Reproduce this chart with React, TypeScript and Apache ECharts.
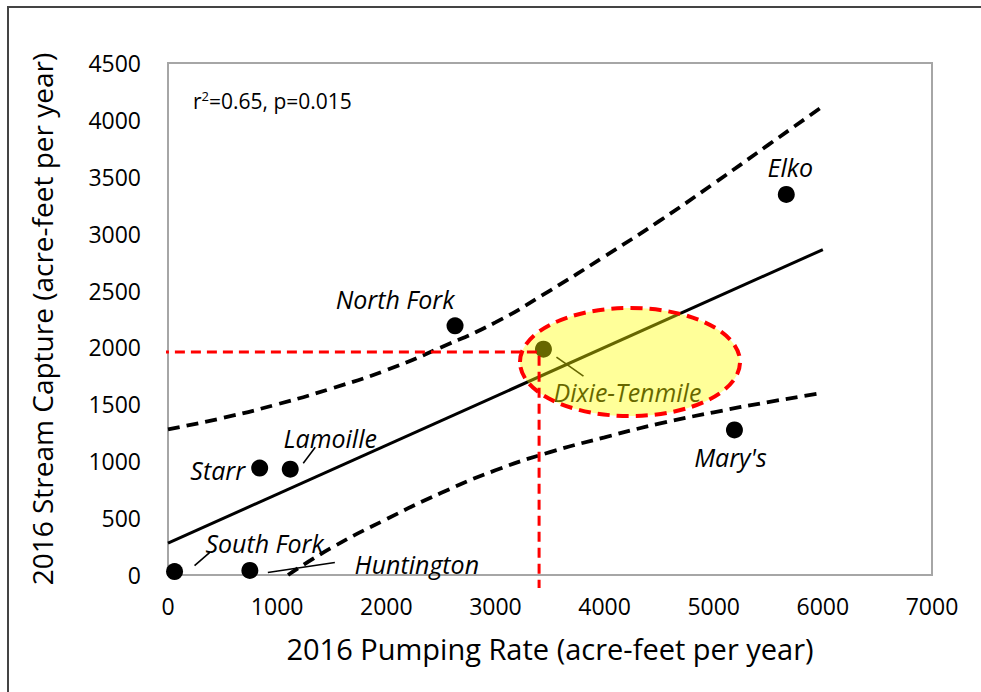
import React, { useEffect, useRef } from "react";
import * as echarts from "echarts";

// ---- data ----
const siteNames = ["South Fork", "Huntington", "Starr", "Lamoille", "North Fork", "Dixie-Tenmile", "Mary's", "Elko"];
const pumpingRate = [60, 750, 840, 1120, 2630, 3440, 5190, 5665];
const streamCapture = [30, 40, 940, 930, 2190, 1985, 1275, 3345];

const fitX = [0, 6000];
const fitY = [280, 2860];

const upperX = [0, 500, 1000, 1500, 2000, 2500, 3000, 3500, 4000, 4500, 5000, 5500, 6000];
const upperY = [1280, 1380, 1500, 1640, 1800, 2000, 2220, 2500, 2800, 3110, 3440, 3780, 4120];
const lowerX = [1100, 1500, 2000, 2500, 3000, 3500, 4000, 4500, 5000, 5500, 6000];
const lowerY = [0, 240, 490, 720, 920, 1080, 1210, 1330, 1430, 1520, 1600];

const readLineX = [-230, 3400, 3400];
const readLineY = [1960, 1960, -115];

const xAxisRange = [0, 7000];
const xAxisStep = 1000;
const yAxisRange = [0, 4500];
const yAxisStep = 500;

const statsText = ["r", "2", "=0.65, p=0.015"];
const xTitle = "2016 Pumping Rate (acre-feet per year)";
const yTitle = "2016 Stream Capture (acre-feet per year)";

// highlight ellipse around Dixie-Tenmile (data units)
const highlightCenter = [4233, 1872];
const highlightRadius = [1008, 475];

// ---- layout (pixel offsets from each point) ----
const labelOffsets: Record<string, number[]> = {
  "South Fork": [90, -29],
  Huntington: [167, -6],
  Starr: [-42, 2],
  Lamoille: [40, -31],
  "North Fork": [-60, -27],
  "Dixie-Tenmile": [84, 43],
  "Mary's": [-4, 27],
  Elko: [4, -27],
};
const leaderLines: Record<string, number[]> = {
  "South Fork": [20, -6, 35, -19],
  Huntington: [18, 2, 85, -8],
  Lamoille: [13, -6, 25, -22],
  "Dixie-Tenmile": [13, 8, 40, 27],
};

const FONT = "Open Sans";

export default function App() {
  const ref = useRef<HTMLDivElement>(null);
  useEffect(() => {
    if (!ref.current) return;
    const chart = echarts.init(ref.current, undefined, { renderer: "svg" });
    const pairs = (xs: number[], ys: number[]) => xs.map((x, i) => [x, ys[i]]);
    const scatterData = siteNames.map((n, i) => ({
      name: n,
      value: [pumpingRate[i], streamCapture[i]],
      label: { offset: labelOffsets[n] },
    }));
    const plain = (v: number) => String(v);
    chart.setOption({
      animation: false,
      backgroundColor: "#ffffff",
      grid: {
        left: 168,
        top: 63,
        right: 49,
        bottom: 117,
        show: true,
        borderColor: "#a6a6a6",
        borderWidth: 2,
        backgroundColor: "transparent",
      },
      xAxis: {
        type: "value",
        min: xAxisRange[0],
        max: xAxisRange[1],
        interval: xAxisStep,
        splitLine: { show: false },
        axisLine: { show: false },
        axisTick: { show: false },
        axisLabel: { color: "#000", fontFamily: FONT, fontSize: 23, margin: 19, formatter: plain },
        name: xTitle,
        nameLocation: "middle",
        nameGap: 59,
        nameTextStyle: { color: "#000", fontFamily: FONT, fontSize: 29 },
      },
      yAxis: {
        type: "value",
        min: yAxisRange[0],
        max: yAxisRange[1],
        interval: yAxisStep,
        splitLine: { show: false },
        axisLine: { show: false },
        axisTick: { show: false },
        axisLabel: { color: "#000", fontFamily: FONT, fontSize: 23, margin: 27, formatter: plain },
        name: yTitle,
        nameLocation: "middle",
        nameGap: 112,
        nameTextStyle: { color: "#000", fontFamily: FONT, fontSize: 28 },
      },
      series: [
        {
          type: "line",
          data: pairs(fitX, fitY),
          symbol: "none",
          lineStyle: { color: "#000", width: 3 },
          z: 3,
        },
        {
          type: "line",
          data: pairs(upperX, upperY),
          symbol: "none",
          smooth: true,
          lineStyle: { color: "#000", width: 3.8, type: [12, 7] },
          z: 3,
        },
        {
          type: "line",
          data: pairs(lowerX, lowerY),
          symbol: "none",
          smooth: true,
          lineStyle: { color: "#000", width: 3.8, type: [12, 7] },
          z: 3,
        },
        {
          type: "scatter",
          data: scatterData,
          symbol: "circle",
          symbolSize: 17,
          itemStyle: { color: "#000", opacity: 1 },
          label: {
            show: true,
            position: "inside",
            formatter: "{b}",
            color: "#000",
            fontFamily: FONT,
            fontStyle: "italic",
            fontSize: 25,
            align: "center",
            verticalAlign: "middle",
          },
          z: 4,
        },
        {
          type: "line",
          data: pairs(readLineX, readLineY),
          symbol: "none",
          clip: false,
          lineStyle: { color: "#ff0000", width: 3, type: [10, 6] },
          z: 120,
        },
      ],
    });

    const toPx = (p: number[]) => chart.convertToPixel({ gridIndex: 0 }, p) as number[];
    const graphics: any[] = [];
    siteNames.forEach((n, i) => {
      const l = leaderLines[n];
      if (!l) return;
      const [px, py] = toPx([pumpingRate[i], streamCapture[i]]);
      graphics.push({
        type: "line",
        shape: { x1: px + l[0], y1: py + l[1], x2: px + l[2], y2: py + l[3] },
        style: { stroke: "#000", lineWidth: 1.6 },
        z: 50,
      });
    });
    const c = toPx(highlightCenter);
    const e1 = toPx([highlightCenter[0] + highlightRadius[0], highlightCenter[1] + highlightRadius[1]]);
    graphics.push({
      type: "ellipse",
      shape: { cx: c[0], cy: c[1], rx: Math.abs(e1[0] - c[0]), ry: Math.abs(c[1] - e1[1]) },
      style: {
        fill: "rgba(255,255,0,0.4)",
        stroke: "#ff0000",
        lineWidth: 4,
        lineDash: [12, 7],
      },
      z: 100,
    });
    const g = toPx([0, yAxisRange[1]]);
    graphics.push({
      type: "text",
      x: g[0] + 25,
      y: g[1] + 38,
      style: {
        text: `{b|${statsText[0]}}{s|${statsText[1]}}{b|${statsText[2]}}`,
        rich: {
          b: { fontFamily: FONT, fontSize: 21, color: "#000" },
          s: { fontFamily: FONT, fontSize: 13, color: "#000", padding: [0, 0, 10, 0] },
        },
        verticalAlign: "middle",
      },
      z: 50,
    });
    graphics.push({
      type: "rect",
      shape: { x: 8, y: 7, width: 1200, height: 900 },
      style: { fill: "none", stroke: "#444", lineWidth: 2 },
      z: 60,
    });
    chart.setOption({ graphic: graphics });
    return () => chart.dispose();
  }, []);
  return <div ref={ref} style={{ width: 981, height: 692, position: "absolute", left: 0, top: 0 }} />;
}
